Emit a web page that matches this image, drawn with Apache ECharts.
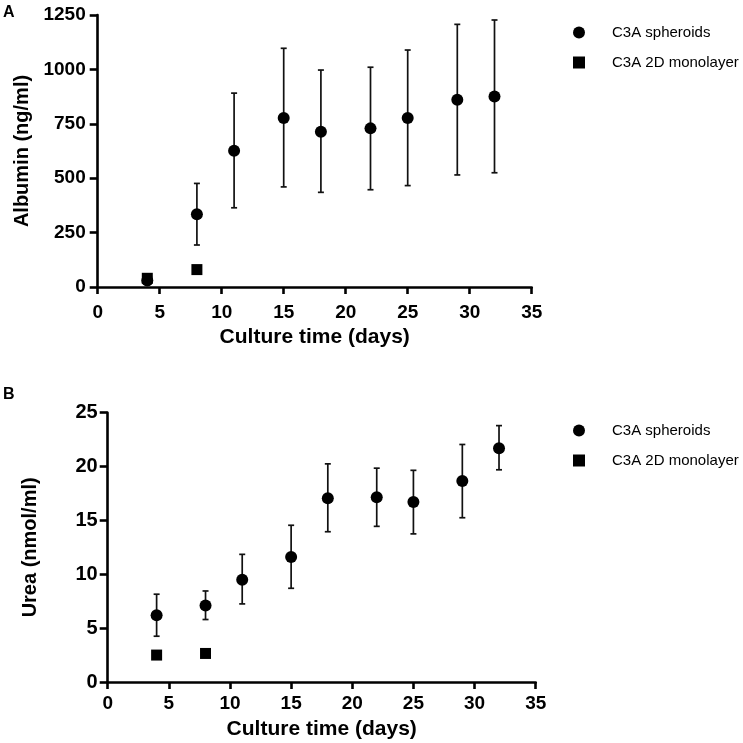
<!DOCTYPE html>
<html>
<head>
<meta charset="utf-8">
<script src="https://cdn.jsdelivr.net/npm/echarts@6/dist/echarts.min.js"></script>
<style>html,body{margin:0;padding:0;background:#fff;}#c{width:743px;height:743px;}</style>
</head>
<body>
<div id="c"></div>
<script>
// ---- Data ----
const seriesNames = ['C3A spheroids', 'C3A 2D monolayer'];
const xTicks = [0, 5, 10, 15, 20, 25, 30, 35];

// Panel A: Albumin (ng/ml)
const albDays = [4, 8, 11, 15, 18, 22, 25, 29, 32];
const albMean = [30, 334, 626, 777, 714, 729, 777, 861, 876];
const albUpper = [40, 476, 891, 1097, 997, 1010, 1089, 1207, 1227];
const albLower = [20, 193, 364, 460, 435, 447, 466, 515, 525];
const albMonoDays = [4, 8];
const albMono = [40, 80];
const albTicks = [0, 250, 500, 750, 1000, 1250];

// Panel B: Urea (nmol/ml)
const ureaDays = [4, 8, 11, 15, 18, 22, 25, 29, 32];
const ureaMean = [6.2, 7.1, 9.5, 11.6, 17.05, 17.15, 16.7, 18.65, 21.7];
const ureaUpper = [8.15, 8.45, 11.85, 14.55, 20.25, 19.85, 19.65, 22.05, 23.8];
const ureaLower = [4.25, 5.8, 7.25, 8.7, 13.95, 14.45, 13.75, 15.25, 19.7];
const ureaMonoDays = [4, 8];
const ureaMono = [2.5, 2.65];
const ureaTicks = [0, 5, 10, 15, 20, 25];

// ---- Build ----
const FONT = 'Arial, "Liberation Sans", Helvetica, sans-serif';
const zip = (a, b) => a.map((v, i) => [v, b[i]]);
const errData = (d, m, u, l) => d.map((v, i) => [v, m[i], u[i], l[i]]);

function errorRender(params, api) {
  const x = api.value(0);
  const hi = api.coord([x, api.value(2)]);
  const lo = api.coord([x, api.value(3)]);
  const hw = 3;
  const st = { stroke: '#111', lineWidth: 1.7 };
  return {
    type: 'group',
    children: [
      { type: 'line', shape: { x1: hi[0], y1: hi[1], x2: lo[0], y2: lo[1] }, style: st },
      { type: 'line', shape: { x1: hi[0] - hw, y1: hi[1], x2: hi[0] + hw, y2: hi[1] }, style: st },
      { type: 'line', shape: { x1: lo[0] - hw, y1: lo[1], x2: lo[0] + hw, y2: lo[1] }, style: st }
    ]
  };
}

function xAxisCfg(gi, labelMargin, nameGap) {
  return {
    type: 'value', gridIndex: gi, min: xTicks[0], max: xTicks[xTicks.length - 1],
    interval: xTicks[1] - xTicks[0],
    name: 'Culture time (days)', nameLocation: 'middle', nameGap: nameGap, nameMoveOverlap: false,
    nameTextStyle: { fontFamily: FONT, fontWeight: 'bold', fontSize: 21, color: '#000' },
    axisLine: { onZero: false, lineStyle: { color: '#000', width: 2.6 } },
    axisTick: { show: true, length: 7, lineStyle: { color: '#000', width: 2.6 } },
    axisLabel: { fontFamily: FONT, fontWeight: 'bold', fontSize: 19, color: '#000', margin: labelMargin, formatter: v => String(v) },
    splitLine: { show: false }
  };
}
function yAxisCfg(gi, ticks, name, nameGap, labelMargin, fs) {
  return {
    type: 'value', gridIndex: gi, min: ticks[0], max: ticks[ticks.length - 1],
    interval: ticks[1] - ticks[0],
    name: name, nameLocation: 'middle', nameGap: nameGap, nameRotate: 90, nameMoveOverlap: false,
    nameTextStyle: { fontFamily: FONT, fontWeight: 'bold', fontSize: 20, color: '#000' },
    axisLine: { show: true, onZero: false, lineStyle: { color: '#000', width: 2.6 } },
    axisTick: { show: true, length: 8, lineStyle: { color: '#000', width: 2.6 } },
    axisLabel: { fontFamily: FONT, fontWeight: 'bold', fontSize: fs, color: '#000', margin: labelMargin, formatter: v => String(v) },
    splitLine: { show: false }
  };
}
function legendCfg(top) {
  return {
    orient: 'vertical', left: 573, top: top, padding: 0,
    itemWidth: 12, itemHeight: 12, itemGap: 15,
    data: [{ name: seriesNames[0], icon: 'circle' }, { name: seriesNames[1], icon: 'rect' }],
    itemStyle: { opacity: 1, color: '#000' },
    textStyle: { fontFamily: FONT, fontSize: 15, color: '#000', padding: [0, 0, 0, 22] },
    selectedMode: false
  };
}

const mk = { color: '#000', opacity: 1 };
const chart = echarts.init(document.getElementById('c'), null, { renderer: 'canvas' });
chart.setOption({
  backgroundColor: '#fff',
  animation: false,
  graphic: [
    { type: 'text', left: 3, top: 5, style: { text: 'A', font: 'bold 16px ' + FONT, fill: '#000' } },
    { type: 'text', left: 3, top: 387, style: { text: 'B', font: 'bold 16px ' + FONT, fill: '#000' } }
  ],
  grid: [
    { left: 97.7, top: 15, right: 211.3, bottom: 456 },
    { left: 107.7, top: 412.7, right: 207.3, bottom: 61 }
  ],
  legend: [legendCfg(25), legendCfg(423)],
  xAxis: [xAxisCfg(0, 16, 40), xAxisCfg(1, 12.5, 37)],
  yAxis: [
    yAxisCfg(0, albTicks, 'Albumin (ng/ml)', 65, 12, 19),
    yAxisCfg(1, ureaTicks, 'Urea (nmol/ml)', 67, 10, 20)
  ],
  series: [
    { type: 'custom', xAxisIndex: 0, yAxisIndex: 0, renderItem: errorRender, data: errData(albDays, albMean, albUpper, albLower), z: 2, silent: true },
    { type: 'custom', xAxisIndex: 1, yAxisIndex: 1, renderItem: errorRender, data: errData(ureaDays, ureaMean, ureaUpper, ureaLower), z: 2, silent: true },
    { name: seriesNames[0], type: 'scatter', xAxisIndex: 0, yAxisIndex: 0, symbol: 'circle', symbolSize: 12, itemStyle: mk, data: zip(albDays, albMean), z: 3 },
    { name: seriesNames[1], type: 'scatter', xAxisIndex: 0, yAxisIndex: 0, symbol: 'rect', symbolSize: 11, itemStyle: mk, data: zip(albMonoDays, albMono), z: 4 },
    { name: seriesNames[0], type: 'scatter', xAxisIndex: 1, yAxisIndex: 1, symbol: 'circle', symbolSize: 12, itemStyle: mk, data: zip(ureaDays, ureaMean), z: 3 },
    { name: seriesNames[1], type: 'scatter', xAxisIndex: 1, yAxisIndex: 1, symbol: 'rect', symbolSize: 11, itemStyle: mk, data: zip(ureaMonoDays, ureaMono), z: 4 }
  ]
});
</script>
</body>
</html>
